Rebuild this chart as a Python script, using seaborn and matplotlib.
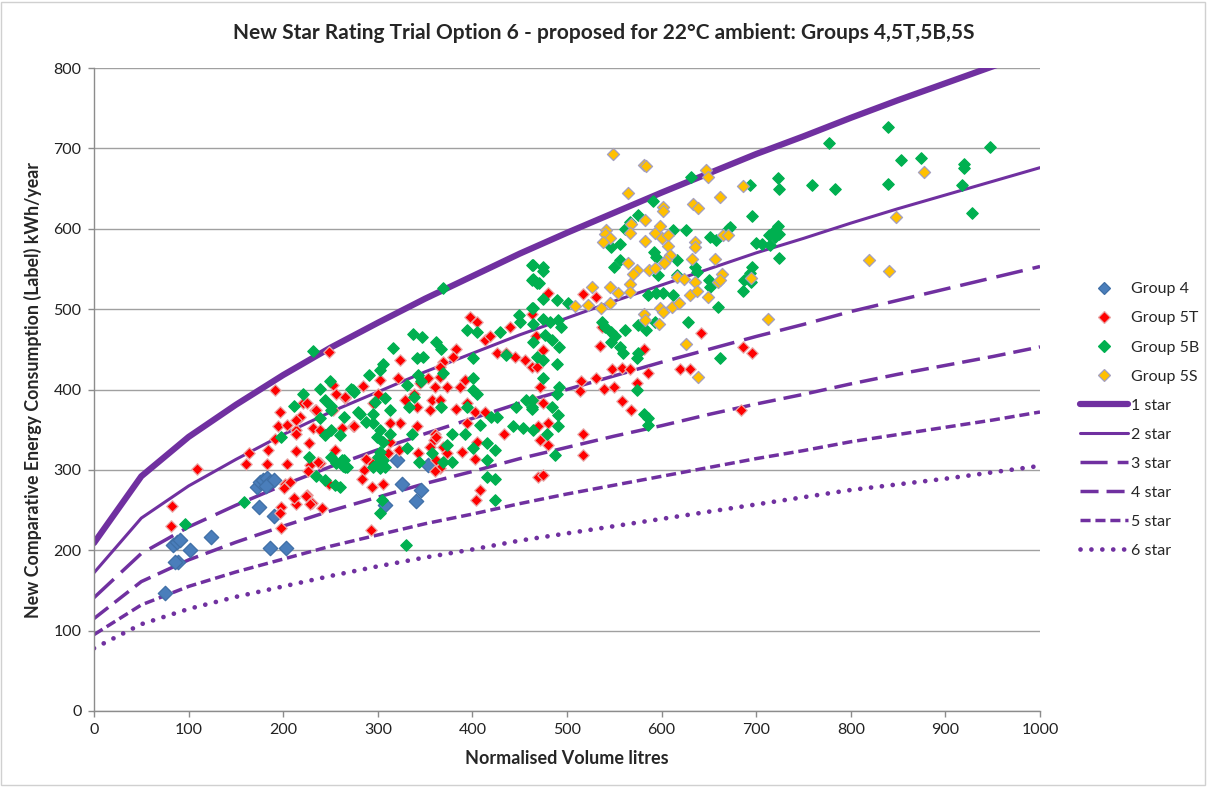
import matplotlib

matplotlib.use("Agg")
import matplotlib.pyplot as plt
import seaborn as sns
from matplotlib.lines import Line2D
from matplotlib.patches import Rectangle

# star rating curves, sampled every 50 litres
volume_pts = [0, 50, 100, 150, 200, 250, 300, 350, 400, 450, 500,
              550, 600, 650, 700, 750, 800, 850, 900, 950, 1000]
star_1 = [209, 292, 341, 381, 418, 452, 483, 513, 541, 569, 595,
          620, 645, 669, 693, 715, 738, 760, 781, 802, 823]
star_2 = [172, 240, 280, 313, 344, 372, 397, 422, 445, 468, 489,
          510, 530, 550, 570, 588, 607, 625, 642, 659, 676]
star_3 = [141, 196, 229, 256, 281, 304, 325, 345, 364, 383, 400,
          417, 434, 450, 466, 481, 497, 511, 525, 539, 553]
star_4 = [115, 161, 188, 210, 230, 249, 266, 283, 298, 314, 328,
          342, 355, 369, 382, 394, 407, 419, 430, 441, 453]
star_5 = [95, 132, 155, 173, 189, 205, 219, 233, 245, 258, 270,
          281, 292, 303, 314, 324, 335, 344, 353, 362, 372]
star_6 = [78, 108, 127, 142, 155, 168, 180, 191, 201, 212, 221,
          230, 239, 248, 257, 266, 275, 282, 289, 297, 305]

# (normalised volume, energy) per product group
group_4 = [(75, 147), (84, 206), (88, 210), (89, 186), (86, 185), (101, 200), (124, 216),
           (91, 213), (172, 279), (175, 285), (179, 287), (183, 290), (186, 285), (190, 288),
           (182, 280), (174, 254), (190, 242), (186, 203), (203, 203), (308, 256), (320, 312),
           (326, 283), (346, 275), (340, 261), (353, 306)]

group_5t = [(82, 255), (81, 230), (109, 301), (248, 447), (191, 399), (197, 372), (195, 354),
            (191, 339), (184, 325), (164, 321), (161, 307), (183, 307), (204, 307), (202, 283),
            (201, 277), (225, 269), (214, 258), (198, 254), (197, 246), (230, 259), (241, 253),
            (198, 228), (214, 350), (227, 334), (214, 323), (228, 306), (239, 308), (234, 374),
            (221, 383), (218, 366), (253, 405), (265, 389), (262, 352), (255, 325), (248, 283),
            (225, 383), (214, 362), (235, 374), (256, 395), (204, 356), (214, 345), (232, 352),
            (239, 350), (253, 374), (274, 354), (237, 310), (226, 298), (207, 285), (211, 265),
            (224, 267), (228, 258), (397, 490), (405, 484), (265, 391), (284, 404), (275, 354),
            (302, 412), (300, 395), (321, 414), (323, 358), (313, 358), (341, 378), (366, 416),
            (369, 434), (383, 451), (380, 441), (373, 403), (357, 387), (366, 387), (360, 403),
            (366, 428), (353, 414), (338, 395), (355, 374), (360, 345), (359, 337), (355, 329),
            (383, 376), (387, 403), (392, 412), (394, 383), (403, 372), (413, 372), (394, 358),
            (405, 335), (403, 314), (408, 275), (404, 262), (433, 345), (413, 461), (419, 466),
            (426, 445), (436, 445), (445, 441), (440, 478), (456, 437), (463, 428), (464, 387),
            (469, 291), (294, 308), (294, 279), (306, 282), (287, 314), (285, 300), (283, 289),
            (313, 335), (322, 325), (311, 321), (345, 408), (323, 437), (341, 354), (343, 321),
            (362, 341), (369, 329), (362, 312), (366, 302), (360, 298), (389, 322), (373, 321),
            (295, 383), (329, 387), (293, 225), (480, 520), (517, 519), (531, 515), (537, 478),
            (535, 454), (581, 451), (586, 421), (642, 470), (619, 425), (630, 426), (548, 426),
            (558, 427), (567, 426), (531, 414), (515, 411), (514, 398), (539, 401), (550, 403),
            (574, 408), (558, 386), (568, 374), (517, 345), (517, 318), (475, 294), (467, 466),
            (475, 449), (468, 428), (471, 403), (475, 383), (469, 354), (471, 337), (480, 331),
            (480, 358), (463, 494), (684, 374), (686, 453), (696, 445)]

group_5b = [(96, 233), (159, 260), (232, 448), (198, 341), (221, 395), (211, 379), (239, 401),
            (249, 410), (244, 387), (251, 374), (239, 364), (244, 343), (251, 350), (264, 366),
            (260, 343), (251, 316), (262, 312), (267, 304), (235, 292), (244, 288), (255, 281),
            (227, 316), (250, 380), (256, 308), (263, 305), (274, 399), (279, 372), (369, 526),
            (463, 555), (463, 536), (468, 532), (394, 474), (405, 472), (337, 469), (347, 465),
            (316, 452), (362, 459), (367, 451), (341, 439), (348, 441), (305, 432), (302, 424),
            (291, 418), (401, 439), (429, 472), (449, 493), (450, 484), (463, 501), (464, 459),
            (468, 441), (436, 443), (272, 401), (275, 397), (331, 405), (342, 418), (346, 410),
            (369, 420), (401, 414), (401, 399), (405, 395), (394, 378), (367, 378), (338, 391),
            (333, 378), (313, 374), (308, 389), (297, 385), (281, 370), (295, 370), (295, 358),
            (288, 360), (302, 350), (313, 345), (299, 341), (306, 335), (302, 322), (300, 316),
            (300, 308), (306, 312), (308, 304), (302, 302), (295, 304), (264, 312), (265, 304),
            (331, 327), (336, 345), (344, 310), (357, 321), (373, 331), (378, 345), (392, 345),
            (369, 310), (378, 310), (401, 327), (408, 356), (415, 333), (415, 312), (424, 325),
            (415, 291), (424, 289), (424, 262), (420, 366), (426, 366), (443, 354), (454, 352),
            (446, 378), (457, 387), (463, 378), (464, 350), (304, 262), (302, 246), (260, 279),
            (330, 206), (631, 665), (591, 635), (575, 617), (567, 609), (561, 600), (612, 599),
            (626, 599), (651, 590), (658, 586), (670, 600), (547, 577), (556, 581), (550, 553),
            (556, 561), (592, 571), (594, 565), (596, 542), (616, 561), (635, 553), (637, 546),
            (650, 536), (651, 528), (660, 503), (628, 484), (662, 439), (464, 555), (475, 553),
            (475, 548), (464, 538), (470, 532), (475, 513), (489, 511), (501, 507), (464, 501),
            (464, 482), (475, 488), (482, 484), (491, 486), (494, 478), (477, 468), (484, 462),
            (492, 453), (475, 437), (489, 432), (475, 414), (492, 403), (489, 395), (484, 378),
            (463, 387), (463, 376), (491, 368), (491, 354), (479, 345), (487, 318), (537, 484),
            (540, 478), (547, 472), (551, 466), (561, 474), (547, 459), (556, 453), (559, 445),
            (575, 445), (574, 439), (574, 399), (581, 370), (586, 364), (586, 356), (586, 517),
            (594, 520), (602, 520), (612, 518), (575, 480), (584, 474), (593, 484), (616, 542),
            (839, 727), (777, 707), (853, 685), (874, 688), (920, 681), (920, 675), (723, 663),
            (693, 654), (724, 649), (759, 654), (783, 650), (839, 656), (918, 655), (928, 620),
            (696, 616), (672, 602), (723, 603), (718, 596), (714, 592), (720, 590), (724, 594),
            (700, 582), (706, 581), (715, 580), (724, 563), (696, 553), (693, 545), (687, 536),
            (695, 534), (686, 522), (947, 702)]

group_5s = [(549, 693), (581, 679), (584, 678), (647, 673), (649, 665), (662, 640), (565, 644),
            (633, 631), (639, 626), (601, 627), (602, 622), (582, 611), (568, 606), (541, 598),
            (540, 594), (545, 589), (538, 583), (567, 595), (593, 595), (598, 604), (600, 589),
            (607, 592), (582, 585), (607, 578), (635, 584), (635, 577), (665, 592), (609, 567),
            (605, 561), (603, 557), (632, 562), (656, 562), (565, 557), (574, 549), (570, 544),
            (587, 549), (593, 551), (616, 540), (624, 538), (635, 534), (664, 544), (660, 534),
            (567, 531), (567, 521), (526, 528), (545, 528), (554, 520), (522, 505), (508, 504),
            (536, 501), (545, 507), (630, 517), (637, 523), (649, 515), (598, 501), (602, 497),
            (611, 503), (618, 507), (581, 494), (582, 486), (597, 481), (626, 456), (638, 415),
            (686, 653), (877, 670), (670, 592), (662, 536), (695, 539), (848, 614), (819, 561),
            (840, 548), (713, 488)]

PURPLE = "#7030A0"
FONT = ["Lato", "DejaVu Sans"]

sns.set_theme(style="white")
plt.rcParams["font.family"] = FONT

fig = plt.figure(figsize=(12.07, 7.87), dpi=100)
ax = fig.add_axes([94 / 1207, 1 - 711 / 787, 946 / 1207, 643 / 787])

star_styles = [
    ("1 star", star_1, 4.5, "-"),
    ("2 star", star_2, 2.2, "-"),
    ("3 star", star_3, 2.5, (0, (7.8, 2.9))),
    ("4 star", star_4, 2.5, (0, (5.2, 2.3))),
    ("5 star", star_5, 2.5, (0, (2.9, 1.4))),
    ("6 star", star_6, 3.4, (0, (0.01, 2.3))),
]
for name, values, lw, ls in star_styles:
    sns.lineplot(x=volume_pts, y=values, ax=ax, color=PURPLE, lw=lw,
                 linestyle=ls, dash_capstyle="round" if name == "6 star" else "butt",
                 zorder=2, legend=False)

groups = [
    ("Group 4", group_4, "#4A7EBB", "#3F6FA6", 54),
    ("Group 5T", group_5t, "#FF0000", "#E8A8A8", 34),
    ("Group 5B", group_5b, "#00B050", "#00B050", 34),
    ("Group 5S", group_5s, "#FFC000", "#A4A0C0", 38),
]
for name, pts, face, edge, size in groups:
    sns.scatterplot(x=[p[0] for p in pts], y=[p[1] for p in pts], ax=ax,
                    marker="D", s=size, color=face, edgecolor=edge,
                    linewidth=0.9, zorder=3, legend=False)

ax.set_xlim(0, 1000)
ax.set_ylim(0, 800)
ax.set_xticks(range(0, 1001, 100))
ax.set_yticks(range(0, 801, 100))
ax.grid(axis="y", color="#A0A0A0", lw=1.0)
ax.set_axisbelow(True)
for side in ["top", "right"]:
    ax.spines[side].set_visible(False)
for side in ["left", "bottom"]:
    ax.spines[side].set_color("#8C8C8C")
    ax.spines[side].set_linewidth(1.0)
ax.tick_params(axis="both", length=4, width=1, color="#8C8C8C",
               labelsize=11.5, labelcolor="#222222", direction="out",
               bottom=True, left=True)
ax.tick_params(axis="x", pad=5)
ax.tick_params(axis="y", pad=5)

ax.set_xlabel("Normalised Volume litres", fontsize=13, fontweight="bold",
              labelpad=9)
ax.set_ylabel("New Comparative Energy Consumption (Label) kWh/year",
              fontsize=12.8, fontweight="bold", labelpad=8)
fig.text(0.5, 1 - 33 / 787,
         "New Star Rating Trial Option 6 - proposed for 22°C ambient: Groups 4,5T,5B,5S",
         ha="center", va="center", fontsize=15, fontweight="bold")

handles = []
for name, pts, face, edge, size in groups:
    handles.append(Line2D([], [], ls="none", marker="D", markersize=6,
                          markerfacecolor=face, markeredgecolor=edge,
                          markeredgewidth=0.9, label=name))
for name, values, lw, ls in star_styles:
    handles.append(Line2D([], [], color=PURPLE, lw=lw, ls=ls, label=name,
                          dash_capstyle="round" if name == "6 star" else "butt",
                          solid_capstyle="round"))
fig.legend(handles=handles, loc="center left", bbox_to_anchor=(0.888, 1 - 420 / 787),
           frameon=False, fontsize=11.5, handlelength=3.0, handletextpad=0.2,
           labelspacing=0.93, borderpad=0)

fig.patches.append(Rectangle((0.001, 0.002), 0.997, 0.996, transform=fig.transFigure,
                             fill=False, edgecolor="#D0D0D0", lw=1.0))

fig.savefig("out.png", dpi=100)
plt.close(fig)
